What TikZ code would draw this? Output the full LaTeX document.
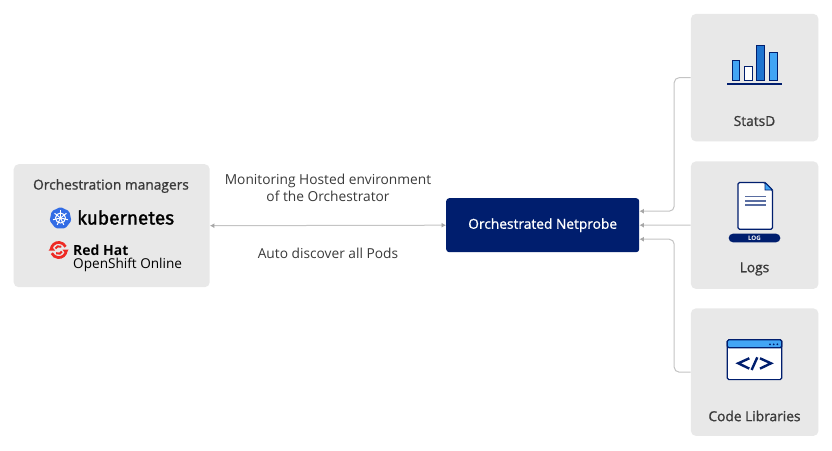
\documentclass[tikz,border=0pt]{standalone}
\usepackage{fontspec}
\setmainfont{Open Sans}
\newfontfamily\semi[FakeBold=1.1]{Open Sans}
\newfontfamily\kubefont[FakeBold=1.6]{Fira Sans}
\usetikzlibrary{arrows.meta,calc}
\definecolor{boxgrey}{HTML}{E8E8E8}
\definecolor{navy}{HTML}{001E6E}
\definecolor{sky}{HTML}{42A5F5}
\definecolor{midblue}{HTML}{1F74D0}
\definecolor{txt}{HTML}{3A3A3A}
\definecolor{wire}{HTML}{C4C4C4}
\definecolor{kube}{HTML}{326CE5}
\definecolor{rh}{HTML}{EE2A24}
\tikzset{
  panel/.style={fill=boxgrey,rounded corners=5,draw=none,inner sep=0,anchor=north west},
  wirel/.style={draw=wire,line width=1,rounded corners=5},
  tipe/.style={-{Latex[length=4.5,width=5,color=wire!85!black]}},
  tipb/.style={{Latex[length=4.5,width=5,color=wire!85!black]}-{Latex[length=4.5,width=5,color=wire!85!black]}},
  lab/.style={text=txt,font=\fontsize{13.75}{17}\selectfont,inner sep=0,align=center},
  slab/.style={text=txt,font=\semi\fontsize{13.75}{16}\selectfont,inner sep=0,align=center},
  ico/.style={draw=navy,line width=1},
}
\begin{document}
\begin{tikzpicture}[x=1pt,y=-1pt]
\useasboundingbox[fill=white] (0,0) rectangle (832,450);
% panels
\node[panel,minimum width=196,minimum height=123] (orch) at (13.5,164) {};
\node[panel,minimum width=127.5,minimum height=127.5] (stats) at (690.7,13.7) {};
\node[panel,minimum width=127.5,minimum height=127.5] (logs) at (690.7,161.2) {};
\node[panel,minimum width=127.5,minimum height=127.5] (code) at (690.7,308.2) {};
% connectors
\node[anchor=north west,fill=navy,rounded corners=3,minimum width=193,minimum height=54,inner sep=0,text=white,font=\semi\fontsize{13.75}{16}\selectfont] (net) at (446,198) {Orchestrated Netprobe};
\coordinate (netA) at ($(net.east)+(0,-14)$);
\coordinate (netB) at ($(net.east)+(0,14)$);
\draw[wirel,tipe] (stats.west) -- ++(-16.5,0) |- (netA);
\draw[wirel,tipe] (logs.west) -- (net.east);
\draw[wirel,tipe] (code.west) -- ++(-16.5,0) |- (netB);
\draw[wirel,tipb] (orch.east) -- (net.west);
% texts
\node[slab] (t1) at (111,186) {Orchestration managers};
\node[lab] (t2) at (328,187.5) {Monitoring Hosted environment\\of the Orchestrator};
\node[lab] (t3) at (328,253) {Auto discover all Pods};
\node[slab] (t4) at (754.5,121) {StatsD};
\node[slab] (t5) at (754.5,269) {Logs};
\node[slab] (t6) at (754.5,416) {Code Libraries};
% kubernetes logo
\fill[kube,rounded corners=1.5] (60.5,207) -- (69.3,211.2) -- (71.4,220.7) -- (65.4,228.3) -- (55.6,228.3) -- (49.6,220.7) -- (51.7,211.2) -- cycle;
\draw[white,line width=1] (60.5,218) circle (5);
\foreach \a in {-90,-38.6,12.9,64.3,115.7,167.1,218.6}
  \draw[white,line width=1] (60.5,218) -- ++(\a:7.6);
\fill[white] (60.5,218) circle (1.4);
\node[inner sep=0,anchor=west,text=black,font=\kubefont\fontsize{19}{20}\selectfont] (kt) at (77,217.5) {kubernetes};
% red hat logo
\begin{scope}[shift={(58.7,250)},yscale=-1]
  \draw[rh,line width=2.7] (175:7.6) arc[start angle=175,end angle=25,radius=7.6];
  \draw[rh,line width=2.7] (-5:7.6) arc[start angle=-5,end angle=-155,radius=7.6];
  \fill[rh] (-10,-0.5) -- (-3.6,-0.5) -- (-7,3.6) -- cycle;
  \fill[rh] (10,0.5) -- (3.6,0.5) -- (7,-3.6) -- cycle;
  \draw[rh,line width=2] (-3.2,1.5) .. controls (-2.5,3.8) and (0,4.3) .. (2.6,3.2);
  \draw[rh,line width=2] (3.2,-1.5) .. controls (2.5,-3.8) and (0,-4.3) .. (-2.6,-3.2);
\end{scope}
\node[inner sep=0,anchor=west,text=black,font=\bfseries\fontsize{14}{15}\selectfont] (rt) at (73,250.5) {Red Hat};
\node[inner sep=0,anchor=west,text=black,font=\fontsize{13.6}{15}\selectfont] (ot) at (73,264.5) {OpenShift Online};
% stats icon
\draw[ico,fill=sky] (732,60.3) rectangle (739.7,80.3);
\draw[ico,fill=white] (744.3,66.3) rectangle (752,80.3);
\draw[ico,fill=midblue] (756.7,45) rectangle (764.7,80.3);
\draw[ico,fill=sky] (769.3,52.7) rectangle (777,80.3);
\draw[navy,line width=1.4] (727.3,84) -- (781.7,84);
% log icon
\draw[ico,line width=1.2,fill=white,rounded corners=1.5] (738,182.5) -- (765,182.5) -- (772.5,190) -- (772.5,229.3) -- (738,229.3) -- cycle;
\draw[navy,line width=0.8,fill=sky] (765,182.5) -- (772.5,190) -- (765,190) -- cycle;
\foreach \yy in {196.7,201,205}
  \draw[navy!65,line width=1.1] (745,\yy) -- (765.7,\yy);
\node[fill=navy,rounded corners=4.2,minimum width=51.6,minimum height=8.6,inner sep=0,text=white,font=\bfseries\fontsize{6.2}{6}\selectfont] (pill) at (754.5,238) {LOG};
% code icon
\draw[ico,line width=1.2,fill=white,rounded corners=1.5] (727.3,339.8) rectangle (781.7,379.6);
\draw[ico,line width=1.2,fill=sky,rounded corners=1.5] (727.3,347.7) -- (727.3,339.8) -- (781.7,339.8) -- (781.7,347.7) -- cycle;
\foreach \xx in {770,773.7,777.3}
  \fill[navy] (\xx,344.3) circle (1);
\draw[navy,line width=2.4] (749.3,358.3) -- (738.3,363.3) -- (749.3,368.6);
\draw[navy,line width=2.4] (757.3,357.3) -- (751.6,370);
\draw[navy,line width=2.4] (760,358.3) -- (771,363.3) -- (760,368.6);
\end{tikzpicture}
\end{document}
